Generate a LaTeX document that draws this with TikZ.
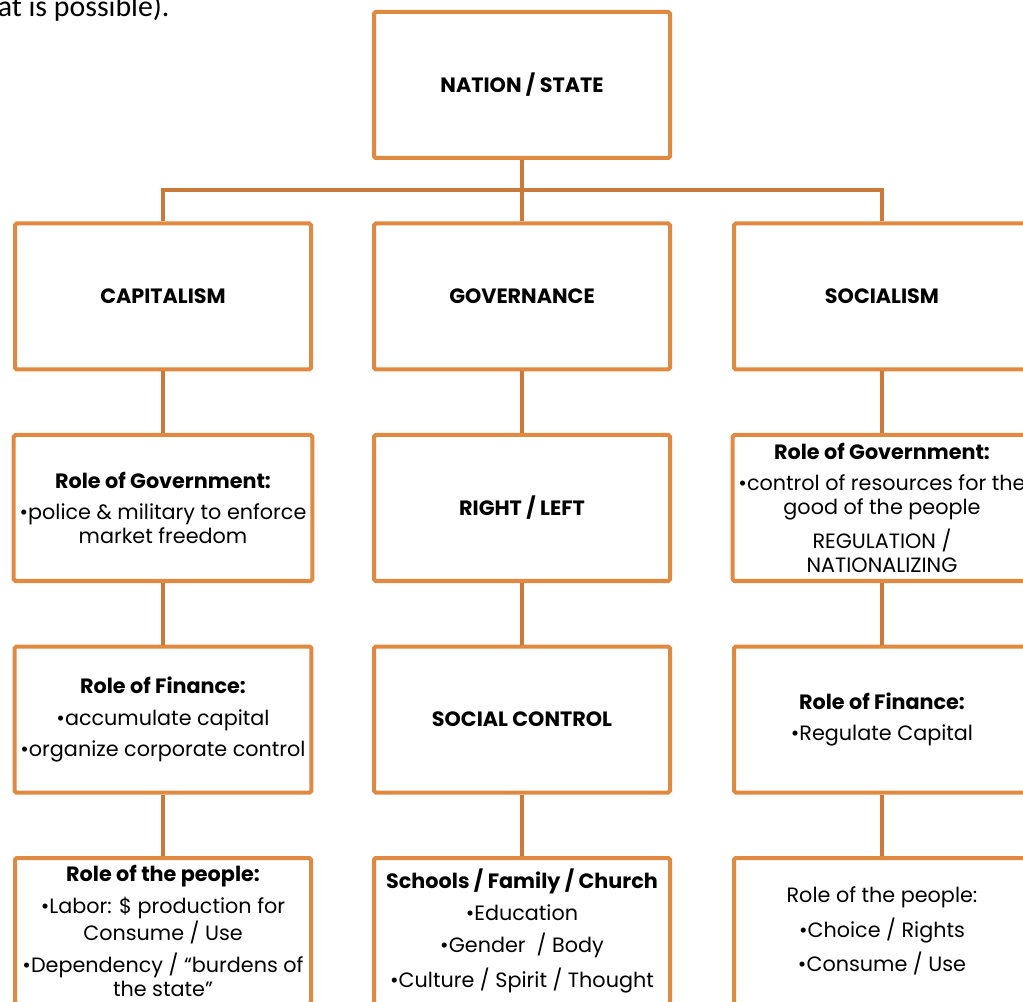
\documentclass[tikz,border=0pt]{standalone}
\usepackage{fontspec}
\setmainfont{Poppins}
\newfontfamily\notefont{Carlito}
\usetikzlibrary{positioning, calc}
\definecolor{boxorange}{RGB}{224,137,64}
\definecolor{lineorange}{RGB}{201,121,57}
\tikzstyle{box} = [rectangle, rounded corners=1pt, minimum width=5.92cm, minimum height=2.92cm, text centered, align=center, draw=boxorange, line width=0.08cm, font=\fontsize{11.8pt}{13.6pt}\selectfont]
\tikzstyle{link} = [draw=lineorange, line width=0.08cm]

\begin{document}
\begin{tikzpicture}[node distance=4.23cm]
    \useasboundingbox (0,0) rectangle (20.46,-20.04);
    %页面顶部残留文字
    \node (note) [anchor=base east, inner sep=0pt, font=\notefont\fontsize{17pt}{19pt}\selectfont] at (3.4,-0.33) {that is possible).};

    %定义各个方框
    \node (nation) [box] at (10.44,-1.7) {\textbf{NATION / STATE}};
    \node (cap) [box, below of = nation, xshift = -7.18cm] {\textbf{CAPITALISM}};
    \node (gov) [box, below of = nation] {\textbf{GOVERNANCE}};
    \node (soc) [box, below of = nation, xshift = 7.2cm] {\textbf{SOCIALISM}};

    \node (capgov) [box, below of = cap] {\textbf{Role of Government:}\\[4.5pt] •police \& military to enforce\\market freedom};
    \node (right) [box, below of = gov] {\textbf{RIGHT / LEFT}};
    \node (socgov) [box, below of = soc] {\textbf{Role of Government:}\\[4pt] •control of resources for the\\good of the people\\[4pt] REGULATION /\\NATIONALIZING};

    \node (capfin) [box, below of = capgov] {\textbf{Role of Finance:}\\[4.5pt] •accumulate capital\\[4.5pt] •organize corporate control};
    \node (control) [box, below of = right] {\textbf{SOCIAL CONTROL}};
    \node (socfin) [box, below of = socgov] {\textbf{Role of Finance:}\\[4.5pt] •Regulate Capital};

    \node (cappeople) [box, below of = capfin] {\textbf{Role of the people:}\\[4.5pt] •Labor: \$ production for\\Consume / Use\\[4.5pt] •Dependency / “burdens of\\the state”};
    \node (church) [box, below of = control] {\textbf{Schools / Family / Church}\\[4.5pt] •Education\\[4.5pt] •Gender~ / Body\\[4.5pt] •Culture / Spirit / Thought};
    \node (socpeople) [box, below of = socfin] {Role of the people:\\[4.5pt] •Choice / Rights\\[4.5pt] •Consume / Use};

    %连接各个方框
    \coordinate (bus) at ($(nation.south)+(0,-0.6)$);
    \draw [link] (nation) -- (bus);
    \draw [link] (cap.north) |- (bus) -| (soc.north);
    \draw [link] (bus) -- (gov);
    \draw [link] (cap) -- (capgov);
    \draw [link] (capgov) -- (capfin);
    \draw [link] (capfin) -- (cappeople);
    \draw [link] (gov) -- (right);
    \draw [link] (right) -- (control);
    \draw [link] (control) -- (church);
    \draw [link] (soc) -- (socgov);
    \draw [link] (socgov) -- (socfin);
    \draw [link] (socfin) -- (socpeople);
\end{tikzpicture}
\end{document}
